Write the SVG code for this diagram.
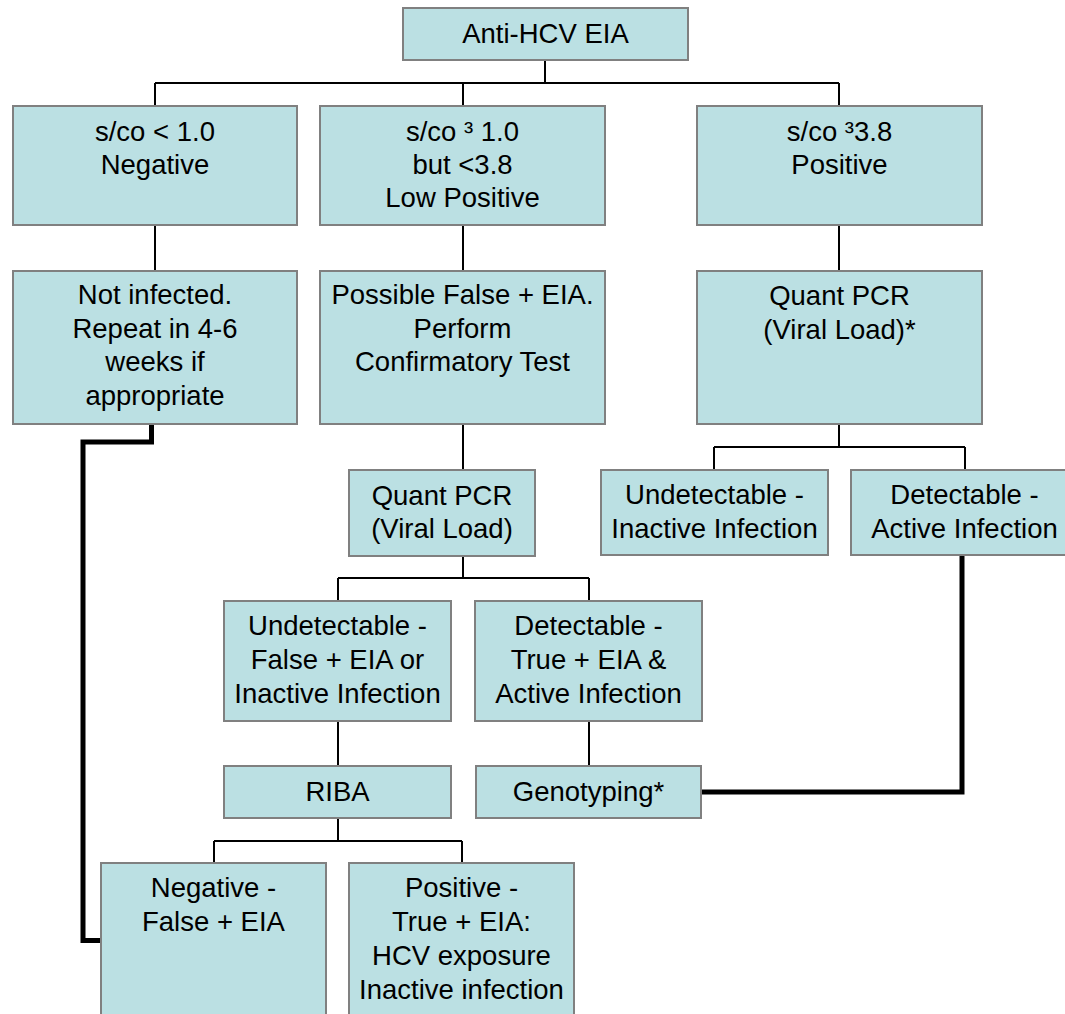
<svg xmlns="http://www.w3.org/2000/svg" width="1065" height="1014" viewBox="0 0 1065 1014">
<style>
.box{fill:#BBE0E3;stroke:#808080;stroke-width:2}
.t{font-family:"Liberation Sans",Arial,sans-serif;font-size:27.5px;fill:#000;text-anchor:middle}
.thin{fill:none;stroke:#000;stroke-width:2}
.thick{fill:none;stroke:#000;stroke-width:5;stroke-linejoin:miter}
</style>
<rect width="1065" height="1014" fill="#fff"/>
<g id="connectors">
<path class="thin" d="M545,60V83M155,83H839M155,83V106M463,83V106M839,83V106"/>
<path class="thin" d="M155,225V271M463,225V271M839,225V271"/>
<path class="thin" d="M463,424V470M839,424V447M714,447H965M714,447V470M965,447V470"/>
<path class="thin" d="M463,556V578M338,578H589M338,578V601M589,578V601"/>
<path class="thin" d="M338,721V766M589,721V766"/>
<path class="thin" d="M338,818V841M214,841H462M214,841V863M462,841V863"/>
<path class="thick" d="M151.5,424V442H83V940.5H101"/>
<path class="thick" d="M962,555V792H702"/>
</g>
<g id="n-top"><rect class="box" x="403" y="8" width="285" height="52"/><text class="t" x="545.5" y="43">Anti-HCV EIA</text></g>
<g id="n-neg"><rect class="box" x="13" y="106" width="284" height="119"/><text class="t" x="155" y="141">s/co &lt; 1.0</text><text class="t" x="155" y="174">Negative</text></g>
<g id="n-low"><rect class="box" x="320" y="106" width="285" height="119"/><text class="t" x="462.5" y="141">s/co ³ 1.0</text><text class="t" x="462.5" y="174">but &lt;3.8</text><text class="t" x="462.5" y="207">Low Positive</text></g>
<g id="n-pos"><rect class="box" x="697" y="106" width="285" height="119"/><text class="t" x="839.5" y="141">s/co ³3.8</text><text class="t" x="839.5" y="174">Positive</text></g>
<g id="n-notinf"><rect class="box" x="13" y="271" width="284" height="153"/><text class="t" x="155" y="304">Not infected.</text><text class="t" x="155" y="338">Repeat in 4-6</text><text class="t" x="155" y="371">weeks if</text><text class="t" x="155" y="405">appropriate</text></g>
<g id="n-possible"><rect class="box" x="320" y="271" width="285" height="153"/><text class="t" x="462.5" y="304">Possible False + EIA.</text><text class="t" x="462.5" y="338">Perform</text><text class="t" x="462.5" y="371">Confirmatory Test</text></g>
<g id="n-quant1"><rect class="box" x="697" y="271" width="285" height="153"/><text class="t" x="839.5" y="305">Quant PCR</text><text class="t" x="839.5" y="339">(Viral Load)*</text></g>
<g id="n-quant2"><rect class="box" x="349" y="470" width="186" height="86"/><text class="t" x="442" y="505">Quant PCR</text><text class="t" x="442" y="538">(Viral Load)</text></g>
<g id="n-undet1"><rect class="box" x="601" y="470" width="227" height="85"/><text class="t" x="714.5" y="504">Undetectable -</text><text class="t" x="714.5" y="538">Inactive Infection</text></g>
<g id="n-det1"><rect class="box" x="851" y="470" width="227" height="85"/><text class="t" x="964.5" y="504">Detectable -</text><text class="t" x="964.5" y="538">Active Infection</text></g>
<g id="n-undet2"><rect class="box" x="224" y="601" width="227" height="120"/><text class="t" x="337.5" y="635">Undetectable -</text><text class="t" x="337.5" y="669">False + EIA or</text><text class="t" x="337.5" y="703">Inactive Infection</text></g>
<g id="n-det2"><rect class="box" x="475" y="601" width="227" height="120"/><text class="t" x="588.5" y="635">Detectable -</text><text class="t" x="588.5" y="669">True + EIA &amp;</text><text class="t" x="588.5" y="703">Active Infection</text></g>
<g id="n-riba"><rect class="box" x="224" y="766" width="227" height="52"/><text class="t" x="337.5" y="801">RIBA</text></g>
<g id="n-geno"><rect class="box" x="476" y="766" width="225" height="52"/><text class="t" x="588.5" y="801">Genotyping*</text></g>
<g id="n-negfalse"><rect class="box" x="101" y="863" width="225" height="160"/><text class="t" x="213.5" y="897">Negative -</text><text class="t" x="213.5" y="931">False + EIA</text></g>
<g id="n-postrue"><rect class="box" x="349" y="863" width="225" height="160"/><text class="t" x="461.5" y="897">Positive -</text><text class="t" x="461.5" y="931">True + EIA:</text><text class="t" x="461.5" y="965">HCV exposure</text><text class="t" x="461.5" y="999">Inactive infection</text></g>
</svg>
